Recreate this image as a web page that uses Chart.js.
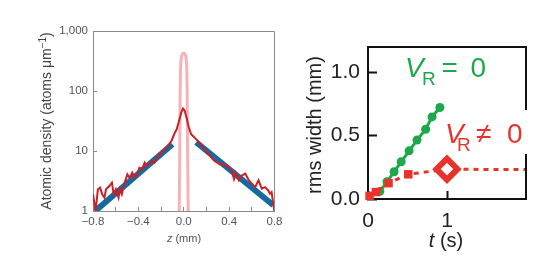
<!DOCTYPE html>
<html>
<head>
<meta charset="utf-8">
<script src="https://cdn.jsdelivr.net/npm/chart.js@4.4.1/dist/chart.umd.min.js"></script>
<style>
    html, body { margin: 0; padding: 0; background: #fff; }
    #wrap { position: relative; width: 552px; height: 273px; overflow: hidden; }
    canvas { position: absolute; top: 0; }
    #densityChart { left: 0; }
    #widthChart { left: 290px; }
</style>
</head>
<body>
<div id="wrap">
    <canvas id="densityChart" width="290" height="273"></canvas>
    <canvas id="widthChart" width="262" height="273"></canvas>
</div>
<script>
// ==========================================
// Data: left panel (atomic density profile)
// ==========================================
var zProfile = [-0.800, -0.777, -0.757, -0.737, -0.719, -0.699, -0.685, -0.656, -0.633, -0.618,
    -0.598, -0.575, -0.564, -0.546, -0.526, -0.497, -0.477, -0.454, -0.431, -0.411,
    -0.391, -0.368, -0.344, -0.324, -0.304, -0.281, -0.258, -0.238, -0.218, -0.195,
    -0.172, -0.151, -0.131, -0.108, -0.085, -0.062, -0.042, -0.022, -0.007, 0.007,
    0.025, 0.045, 0.065, 0.088, 0.111, 0.137, 0.157, 0.180, 0.203, 0.226,
    0.249, 0.272, 0.295, 0.319, 0.342, 0.360, 0.380, 0.400, 0.420, 0.443,
    0.460, 0.486, 0.515, 0.543, 0.573, 0.601, 0.630, 0.659, 0.688, 0.716,
    0.745, 0.760, 0.774, 0.789, 0.800];
var densityProfile = [1.90, 1.00, 2.30, 2.45, 1.90, 1.67, 2.30, 2.61, 2.97, 1.90,
    2.30, 1.67, 2.30, 1.90, 2.78, 4.08, 3.59, 4.35, 3.59, 4.08,
    5.27, 4.95, 6.39, 5.62, 5.99, 6.81, 6.39, 7.74, 8.80, 9.38,
    10.7, 11.7, 12.9, 14.7, 19.0, 23.0, 31.6, 43.5, 50.8, 47.6,
    35.9, 24.5, 19.0, 17.3, 15.6, 13.8, 12.6, 10.7, 9.38, 8.80,
    7.55, 6.81, 6.40, 6.00, 6.20, 5.60, 5.80, 5.40, 4.90, 3.40,
    4.30, 3.25, 3.94, 4.20, 3.25, 2.86, 2.50, 3.25, 2.36, 2.50,
    2.20, 1.95, 2.07, 1.33, 0.96];

var zFitLeft = [-0.78, -0.10];
var densityFitLeft = [1.0, 13.0];
var zFitRight = [0.11, 0.79];
var densityFitRight = [14.0, 1.25];

var zInitial = [-0.040, -0.036, -0.034, -0.032, -0.029, -0.024, -0.016, -0.006,
    0.004, 0.014, 0.022, 0.027, 0.030, 0.032, 0.035, 0.039];
var densityInitial = [1.0, 5, 20, 80, 200, 320, 395, 425, 425, 400, 330, 220, 100, 30, 8, 1.0];

var zTicks = [-0.8, -0.6, -0.4, -0.2, 0, 0.2, 0.4, 0.6, 0.8];
var zTickLabels = ['\u22120.8', '', '\u22120.4', '', '0.0', '', '0.4', '', '0.8'];
var densityTicks = [1, 10, 100, 1000];
var densityTickLabels = ['1', '10', '100', '1,000'];

// ==========================================
// Data: right panel (rms width vs time)
// ==========================================
var tNoDisorder = [0.15, 0.24, 0.33, 0.42, 0.52, 0.62, 0.73, 0.81, 0.91];
var widthNoDisorder = [0.06, 0.136, 0.215, 0.294, 0.38, 0.465, 0.551, 0.648, 0.722];
var tDisorder = [0.02, 0.10, 0.26, 0.51, 1.0, 2.0];
var widthDisorder = [0.025, 0.055, 0.125, 0.195, 0.235, 0.232];

var tTicks = [0, 1];
var tTickLabels = ['0', '1'];
var widthTicks = [0, 0.5, 1.0];
var widthTickLabels = ['0.0', '0.5', '1.0'];

var FONT = "'Liberation Sans', Arial, Helvetica, sans-serif";
var GREEN = '#1ea84b';
var RED = '#e8322b';

Chart.defaults.font.family = FONT;

function toPoints(xs, ys) {
    return xs.map(function(x, i) { return { x: x, y: ys[i] }; });
}

function fixedTicks(values) {
    return function(scale) {
        scale.ticks = values.map(function(v) { return { value: v }; });
    };
}

/**
 * Draw a row of text runs (different fonts / offsets) starting at x.
 * align 'center' centres the whole row on x.
 */
function drawRuns(ctx, runs, x, y, align) {
    var total = 0;
    runs.forEach(function(r) {
        ctx.font = r.font;
        r.w = ctx.measureText(r.text).width;
        total += r.w;
    });
    var cx = align === 'center' ? x - total / 2 : x;
    runs.forEach(function(r) {
        ctx.font = r.font;
        ctx.fillStyle = r.color;
        ctx.fillText(r.text, cx, y + (r.dy || 0));
        cx += r.w;
    });
}

// top + right frame lines of the plot box
var framePlugin = {
    id: 'frame',
    afterDatasetsDraw: function(chart, args, opts) {
        var a = chart.chartArea;
        var ctx = chart.ctx;
        var off = opts.width % 2 ? 0.5 : 0;
        var top = Math.round(a.top) + off;
        var right = Math.round(a.right) - off;
        ctx.save();
        ctx.strokeStyle = opts.color;
        ctx.lineWidth = opts.width;
        ctx.beginPath();
        ctx.moveTo(Math.round(a.left), top);
        ctx.lineTo(right, top);
        ctx.lineTo(right, Math.round(a.bottom));
        ctx.stroke();
        ctx.restore();
    }
};

// ==========================================
// Left chart
// ==========================================
new Chart(document.getElementById('densityChart'), {
    type: 'line',
    data: {
        datasets: [{
            data: toPoints(zProfile, densityProfile),
            borderColor: '#cc2029',
            borderWidth: 2,
            pointRadius: 0
        }, {
            data: toPoints(zFitLeft, densityFitLeft),
            borderColor: '#176aa0',
            borderWidth: 6,
            pointRadius: 0
        }, {
            data: toPoints(zFitRight, densityFitRight),
            borderColor: '#176aa0',
            borderWidth: 6,
            pointRadius: 0
        }, {
            data: toPoints(zInitial, densityInitial),
            borderColor: '#f6b3b5',
            borderWidth: 3,
            pointRadius: 0,
            cubicInterpolationMode: 'monotone'
        }]
    },
    options: {
        responsive: false,
        animation: false,
        events: [],
        layout: { padding: { left: 0, right: 12, top: 31, bottom: 0 } },
        plugins: {
            legend: { display: false },
            tooltip: { enabled: false },
            frame: { color: '#8a8a8a', width: 1 }
        },
        scales: {
            x: {
                type: 'linear',
                min: -0.8,
                max: 0.8,
                afterBuildTicks: fixedTicks(zTicks),
                afterFit: function(s) { s.height = 62; },
                border: { color: '#8a8a8a', width: 1 },
                grid: { drawOnChartArea: false, color: '#8a8a8a', tickLength: -4, tickWidth: 1 },
                ticks: {
                    autoSkip: false,
                    maxRotation: 0,
                    padding: 7.5,
                    color: '#555',
                    font: { size: 11.5 },
                    callback: function(v, i) { return zTickLabels[i]; }
                }
            },
            y: {
                type: 'logarithmic',
                min: 1,
                max: 1000,
                afterBuildTicks: fixedTicks(densityTicks),
                afterFit: function(s) { s.width = 93; },
                border: { color: '#8a8a8a', width: 1 },
                grid: { drawOnChartArea: false, color: '#8a8a8a', tickLength: -4, tickWidth: 1 },
                ticks: {
                    autoSkip: false,
                    padding: 9,
                    color: '#555',
                    font: { size: 11.5 },
                    callback: function(v, i) { return densityTickLabels[i]; }
                }
            }
        }
    },
    plugins: [framePlugin, {
        id: 'densityTitles',
        afterDraw: function(chart) {
            var ctx = chart.ctx;
            ctx.save();
            ctx.textBaseline = 'alphabetic';
            drawRuns(ctx, [
                { text: 'z', font: 'italic 11px ' + FONT, color: '#555' },
                { text: ' (mm)', font: '11px ' + FONT, color: '#555' }
            ], 184, 242, 'center');

            ctx.translate(47, 121);
            ctx.rotate(-Math.PI / 2);
            ctx.textBaseline = 'middle';
            drawRuns(ctx, [
                { text: 'Atomic density (atoms \u03bcm', font: '14px ' + FONT, color: '#444' },
                { text: '\u22121', font: '10px ' + FONT, color: '#444', dy: -4 },
                { text: ')', font: '14px ' + FONT, color: '#444' }
            ], 0, 0, 'center');
            ctx.restore();
        }
    }]
});

// ==========================================
// Right chart
// ==========================================
new Chart(document.getElementById('widthChart'), {
    type: 'line',
    data: {
        datasets: [{
            data: toPoints(tDisorder, widthDisorder),
            borderColor: RED,
            borderWidth: 3,
            borderDash: [5, 5],
            pointStyle: ['rect', 'rect', 'rect', 'rect', 'rectRot', 'rect'],
            pointRadius: [6, 6, 6, 6, 10.5, 0],
            pointBackgroundColor: [RED, RED, RED, RED, '#fff', RED],
            pointBorderColor: RED,
            pointBorderWidth: [0, 0, 0, 0, 6, 0],
            clip: false
        }, {
            data: toPoints(tNoDisorder, widthNoDisorder),
            borderColor: GREEN,
            borderWidth: 3,
            pointRadius: 4.5,
            pointBackgroundColor: GREEN,
            pointBorderWidth: 0,
            clip: false
        }]
    },
    options: {
        responsive: false,
        animation: false,
        events: [],
        layout: { padding: { left: 0, right: 26, top: 47, bottom: 0 } },
        plugins: {
            legend: { display: false },
            tooltip: { enabled: false },
            frame: { color: '#111', width: 2 }
        },
        scales: {
            x: {
                type: 'linear',
                min: 0,
                max: 2,
                afterBuildTicks: fixedTicks(tTicks),
                afterFit: function(s) { s.height = 74; },
                border: { color: '#111', width: 2 },
                grid: { drawOnChartArea: false, color: '#111', tickLength: -8, tickWidth: 2 },
                ticks: {
                    autoSkip: false,
                    maxRotation: 0,
                    padding: 18,
                    color: '#222',
                    font: { size: 21 },
                    callback: function(v, i) { return tTickLabels[i]; }
                }
            },
            y: {
                type: 'linear',
                min: 0,
                max: 1.2,
                afterBuildTicks: fixedTicks(widthTicks),
                afterFit: function(s) { s.width = 78; },
                border: { color: '#111', width: 2 },
                grid: { drawOnChartArea: false, color: '#111', tickLength: -9, tickWidth: 2 },
                ticks: {
                    autoSkip: false,
                    padding: 17,
                    color: '#222',
                    font: { size: 21 },
                    callback: function(v, i) { return widthTickLabels[i]; }
                }
            }
        }
    },
    plugins: [framePlugin, {
        id: 'widthTitles',
        afterDraw: function(chart) {
            var ctx = chart.ctx;
            ctx.save();
            ctx.textBaseline = 'alphabetic';
            drawRuns(ctx, [
                { text: 't', font: 'italic 20px ' + FONT, color: '#222' },
                { text: ' (s)', font: '20px ' + FONT, color: '#222' }
            ], 156, 247, 'center');

            // V_R = 0
            drawRuns(ctx, [{ text: 'V', font: 'italic 28px ' + FONT, color: GREEN }], 115, 77);
            drawRuns(ctx, [{ text: 'R', font: '19px ' + FONT, color: GREEN }], 132, 85);
            drawRuns(ctx, [{ text: '=', font: '28px ' + FONT, color: GREEN }], 151.5, 77);
            drawRuns(ctx, [{ text: '0', font: '28px ' + FONT, color: GREEN }], 180.5, 77);

            // V_R != 0 sits on a white patch that breaks the right frame
            ctx.fillStyle = '#fff';
            ctx.fillRect(228, 110, 14, 44);
            drawRuns(ctx, [{ text: 'V', font: 'italic 28px ' + FONT, color: RED }], 155, 143);
            drawRuns(ctx, [{ text: 'R', font: '19px ' + FONT, color: RED }], 167, 151);
            drawRuns(ctx, [{ text: '\u2260', font: '28px ' + FONT, color: RED }], 186, 143);
            drawRuns(ctx, [{ text: '0', font: '28px ' + FONT, color: RED }], 217, 143);

            ctx.translate(25.5, 125);
            ctx.rotate(-Math.PI / 2);
            ctx.textBaseline = 'middle';
            drawRuns(ctx, [{ text: 'rms width (mm)', font: '20px ' + FONT, color: '#222' }], 0, 0, 'center');
            ctx.restore();
        }
    }]
});
</script>
</body>
</html>
